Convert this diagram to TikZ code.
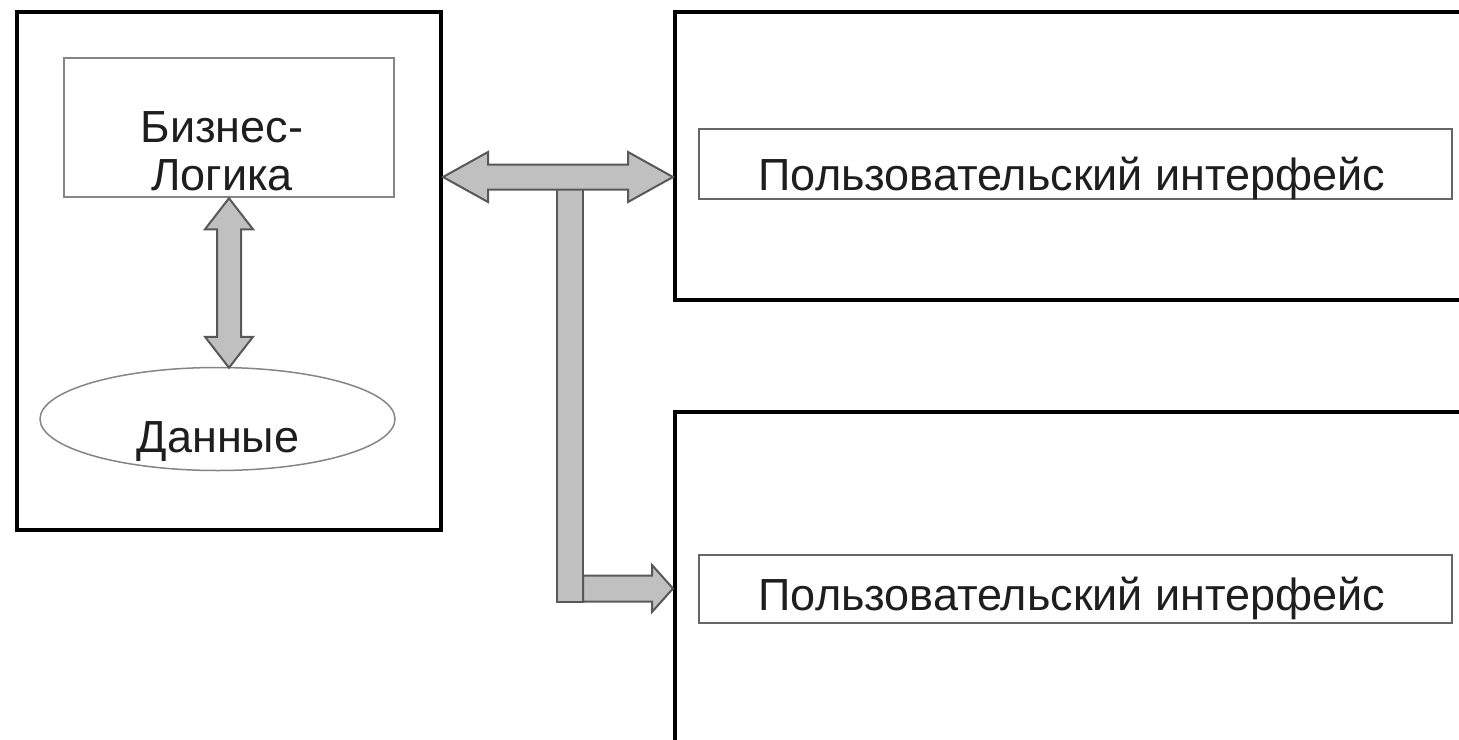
\documentclass[tikz,border=0pt]{standalone}
\usepackage{fontspec}
\setmainfont{Liberation Sans}
\usetikzlibrary{calc,shapes.geometric}
\definecolor{fatfill}{HTML}{C0C0C0}
\definecolor{fatline}{HTML}{585858}
\definecolor{boxgray}{HTML}{666666}
\definecolor{txt}{HTML}{1E1E1E}
\begin{document}
\begin{tikzpicture}[x=1pt,y=-1pt,
  outerbox/.style={draw=black,line width=4pt,minimum width=#1,inner sep=0pt},
  innerbox/.style={draw=boxgray,line width=2.5pt,inner sep=0pt},
  lbl/.style={text=txt,font=\fontsize{45}{48}\selectfont,anchor=base,inner sep=0pt},
  fat/.style={fill=fatfill,draw=fatline,line width=2pt,line join=miter}]
\useasboundingbox (0,0) rectangle (1459,739);
\fill[white] (0,0) rectangle (1459,739);
% outer boxes
\node[outerbox=424pt,minimum height=518pt] (left) at (229,271) {};
\node[outerbox=800pt,minimum height=288pt] (rtop) at (1075,156) {};
\node[outerbox=800pt,minimum height=348pt] (rbot) at (1075,586) {};
% inner elements
\node[innerbox,draw=boxgray!80,minimum width=330pt,minimum height=139pt] (biz) at (229,127.5) {};
\node[lbl,align=center] (biztxt) at (222,190) {Бизнес-\\Логика};
\node[draw=boxgray!80,line width=1.5pt,ellipse,minimum width=355pt,minimum height=103pt,inner sep=0pt] (data) at (217.5,419) {};
\node[lbl] (datatxt) at (218,452) {Данные};
\node[innerbox,minimum width=753pt,minimum height=70pt] (ui1) at (1075.5,164) {};
\node[lbl] (ui1txt) at (1072,190) {Пользовательский интерфейс};
\node[innerbox,minimum width=753pt,minimum height=68pt] (ui2) at (1075.5,589) {};
\node[lbl] (ui2txt) at (1072,610) {Пользовательский интерфейс};
% vertical double arrow biz <-> data
\coordinate (vT) at (biz.south);
\coordinate (vB) at ($(vT |- data.north)+(0,1)$);
\draw[fat] (vT) -- ++(24,31) -- ++(-12,0) -- ($(vB)+(12,-31)$) -- ++(12,0) -- (vB)
  -- ++(-24,-31) -- ++(12,0) -- ($(vT)+(-12,31)$) -- ++(-12,0) -- cycle;
% stem
\coordinate (stemtop) at (570,189);
\coordinate (corner) at (570,601.5);
\draw[fat] ($(stemtop)+(-13,0)$) rectangle ($(corner)+(13,0)$);
% horizontal double arrow left <-> ui top
\coordinate (hL) at (left.east |- 0,177);
\coordinate (hR) at (rtop.west |- hL);
\draw[fat] (hL) -- ++(45,-25) -- ++(0,12.5) -- ($(hR)+(-45,-12.5)$) -- ++(0,-12.5) -- (hR)
  -- ++(-45,25) -- ++(0,-12.5) -- ($(hL)+(45,12.5)$) -- ++(0,12.5) -- cycle;
% branch arrow to bottom
\coordinate (bT) at (rbot.west |- 0,588.5);
\draw[fat] ($(corner)+(13,-26)$) -- ($(bT)+(-21,-13)$) -- ++(0,-10.5) -- (bT) -- ++(-21,23.5)
  -- ++(0,-10.5) -- ($(corner)+(13,0)$) -- cycle;
\end{tikzpicture}
\end{document}
